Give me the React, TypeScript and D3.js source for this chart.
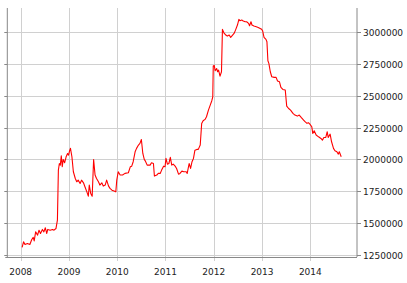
import React from "react";
import * as d3 from "d3";

const years: number[] = [
  2008.03, 2008.06, 2008.09, 2008.14, 2008.19, 2008.23, 2008.26, 2008.28, 2008.31, 2008.35,
  2008.38, 2008.41, 2008.45, 2008.48, 2008.51, 2008.54, 2008.56, 2008.61, 2008.66, 2008.69,
  2008.73, 2008.76, 2008.78, 2008.80, 2008.82, 2008.84, 2008.86, 2008.88, 2008.91, 2008.94,
  2008.97, 2008.99, 2009.01, 2009.03, 2009.06, 2009.09, 2009.13, 2009.16, 2009.19, 2009.23,
  2009.26, 2009.30, 2009.33, 2009.37, 2009.40, 2009.42, 2009.45, 2009.48, 2009.51, 2009.54,
  2009.57, 2009.61, 2009.64, 2009.68, 2009.71, 2009.75, 2009.78, 2009.82, 2009.85, 2009.89,
  2009.92, 2009.97, 2009.99, 2010.02, 2010.06, 2010.11, 2010.16, 2010.23, 2010.27, 2010.30,
  2010.33, 2010.37, 2010.40, 2010.44, 2010.47, 2010.50, 2010.53, 2010.56, 2010.58, 2010.62,
  2010.68, 2010.71, 2010.75, 2010.77, 2010.82, 2010.85, 2010.89, 2010.92, 2010.96, 2010.99,
  2011.01, 2011.04, 2011.07, 2011.10, 2011.13, 2011.16, 2011.20, 2011.23, 2011.27, 2011.30,
  2011.34, 2011.38, 2011.43, 2011.45, 2011.49, 2011.52, 2011.55, 2011.58, 2011.61, 2011.65,
  2011.68, 2011.72, 2011.75, 2011.78, 2011.82, 2011.85, 2011.89, 2011.92, 2011.96, 2011.98,
  2011.99, 2012.01, 2012.03, 2012.06, 2012.08, 2012.10, 2012.13, 2012.16, 2012.18, 2012.21,
  2012.25, 2012.28, 2012.32, 2012.35, 2012.39, 2012.42, 2012.45, 2012.49, 2012.52, 2012.54,
  2012.58, 2012.61, 2012.65, 2012.68, 2012.72, 2012.74, 2012.77, 2012.79, 2012.83, 2012.88,
  2012.92, 2012.96, 2012.99, 2013.01, 2013.04, 2013.08, 2013.10, 2013.12, 2013.14, 2013.17,
  2013.20, 2013.25, 2013.29, 2013.32, 2013.36, 2013.39, 2013.43, 2013.48, 2013.51, 2013.55,
  2013.59, 2013.64, 2013.68, 2013.73, 2013.77, 2013.81, 2013.86, 2013.89, 2013.93, 2013.96,
  2013.99, 2014.03, 2014.05, 2014.08, 2014.12, 2014.17, 2014.22, 2014.25, 2014.28, 2014.32,
  2014.35, 2014.37, 2014.41, 2014.44, 2014.48, 2014.51, 2014.55, 2014.58, 2014.60, 2014.64,
];

const values: number[] = [
  1307000, 1351000, 1330000, 1338000, 1330000, 1370000, 1386000, 1359000, 1430000, 1404000,
  1443000, 1417000, 1449000, 1430000, 1462000, 1417000, 1449000, 1443000, 1449000, 1443000,
  1456000, 1522000, 1916000, 1968000, 1955000, 2029000, 1942000, 2000000, 1974000, 2021000,
  2047000, 2034000, 2066000, 2087000, 2021000, 1903000, 1850000, 1824000, 1837000, 1811000,
  1837000, 1816000, 1785000, 1745000, 1711000, 1798000, 1732000, 1711000, 2000000, 1877000,
  1850000, 1824000, 1798000, 1816000, 1790000, 1798000, 1837000, 1790000, 1772000, 1758000,
  1753000, 1745000, 1837000, 1903000, 1877000, 1877000, 1890000, 1895000, 1942000, 1947000,
  1982000, 2060000, 2087000, 2113000, 2126000, 2157000, 2047000, 2000000, 1989000, 1955000,
  1955000, 1974000, 1968000, 1869000, 1877000, 1890000, 1890000, 1916000, 1947000, 1942000,
  2008000, 1963000, 1968000, 2016000, 1955000, 1963000, 1947000, 1929000, 1884000, 1890000,
  1908000, 1903000, 1903000, 1890000, 1968000, 1929000, 1982000, 2008000, 2073000, 2079000,
  2079000, 2113000, 2283000, 2304000, 2315000, 2336000, 2388000, 2420000, 2462000, 2493000,
  2735000, 2740000, 2698000, 2716000, 2690000, 2703000, 2656000, 2690000, 3024000, 2997000,
  2979000, 2971000, 2979000, 2961000, 2979000, 2992000, 3018000, 3058000, 3102000, 3092000,
  3097000, 3089000, 3084000, 3084000, 3071000, 3052000, 3084000, 3058000, 3050000, 3045000,
  3039000, 3031000, 3024000, 3013000, 2961000, 2945000, 2926000, 2777000, 2756000, 2690000,
  2651000, 2646000, 2646000, 2617000, 2611000, 2567000, 2551000, 2546000, 2420000, 2401000,
  2388000, 2362000, 2349000, 2341000, 2349000, 2331000, 2310000, 2297000, 2284000, 2289000,
  2278000, 2257000, 2205000, 2226000, 2192000, 2178000, 2165000, 2152000, 2173000, 2173000,
  2218000, 2173000, 2199000, 2139000, 2087000, 2068000, 2060000, 2042000, 2060000, 2021000,
];

const yTicks: number[] = [1250000, 1500000, 1750000, 2000000, 2250000, 2500000, 2750000, 3000000];
const xTickYears: number[] = [2008, 2009, 2010, 2011, 2012, 2013, 2014];

function yearToDate(y: number): Date {
  const yr = Math.floor(y);
  const start = new Date(yr, 0, 1).getTime();
  const end = new Date(yr + 1, 0, 1).getTime();
  return new Date(start + (end - start) * (y - yr));
}

export default function App() {
  const W = 407, H = 283;
  const left = 7.3, right = 357, top = 8, bottom = 257;
  const x = d3.scaleTime()
    .domain([new Date(2007, 8, 22), new Date(2014, 11, 20)])
    .range([left, right]);
  const y = d3.scaleLinear()
    .domain([1232000, 3192000])
    .range([bottom, top]);
  const data = years.map((yr, i) => ({ d: yearToDate(yr), v: values[i] }));
  const line = d3.line<{ d: Date; v: number }>()
    .x((p) => x(p.d))
    .y((p) => y(p.v));
  const font = "'DejaVu Sans', Verdana, sans-serif";
  return (
    <svg width={W} height={H} style={{ position: "absolute", left: 0, top: 0, background: "#fff" }}>
      {yTicks.map((t) => (
        <line key={"gy" + t} x1={left} x2={right} y1={Math.round(y(t)) + 0.5} y2={Math.round(y(t)) + 0.5} stroke="#d0d0d0" strokeWidth={1} />
      ))}
      {xTickYears.map((t) => {
        const xx = Math.round(x(new Date(t, 0, 1))) + 0.5;
        return <line key={"gx" + t} x1={xx} x2={xx} y1={top} y2={bottom + 4} stroke="#d0d0d0" strokeWidth={1} />;
      })}
      <line x1={left} x2={left} y1={top} y2={bottom} stroke="#888" strokeWidth={1} />
      <line x1={right} x2={right} y1={top} y2={bottom} stroke="#888" strokeWidth={1} />
      <line x1={left - 2} x2={right} y1={bottom + 0.5} y2={bottom + 0.5} stroke="#888" strokeWidth={1} />
      {yTicks.map((t) => {
        const yy = Math.round(y(t)) + 0.5;
        return (
          <g key={"ty" + t}>
            <line x1={left - 3} x2={left} y1={yy} y2={yy} stroke="#888" strokeWidth={1} />
            <line x1={right} x2={right + 4} y1={yy} y2={yy} stroke="#888" strokeWidth={1} />
            <text x={right + 6} y={yy} dy="0.35em" fontFamily={font} fontSize={9} fill="#222">{t}</text>
          </g>
        );
      })}
      {xTickYears.map((t) => (
        <text key={"tx" + t} x={x(new Date(t, 0, 1))} y={275} textAnchor="middle" fontFamily={font} fontSize={9} fill="#222">{t}</text>
      ))}
      <path d={line(data) || ""} fill="none" stroke="#ff0000" strokeWidth={1.1} strokeLinejoin="round" />
    </svg>
  );
}
